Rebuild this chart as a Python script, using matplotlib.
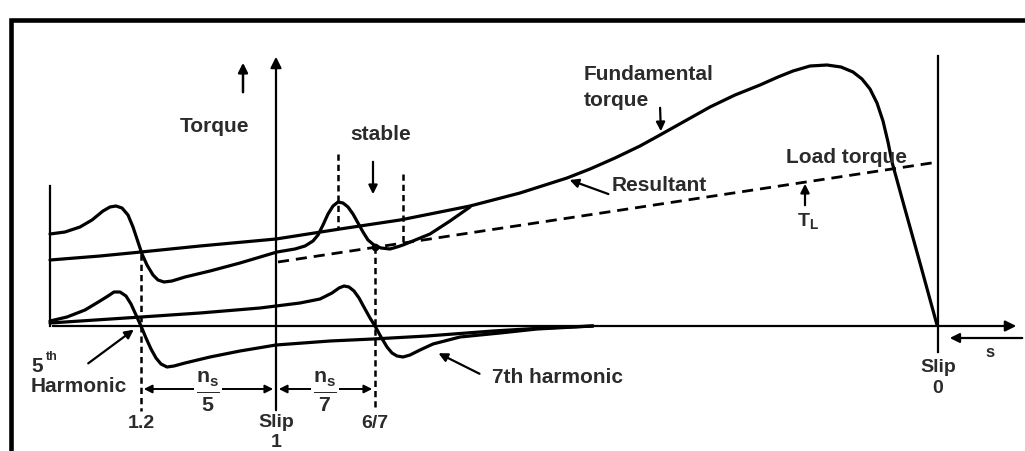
import matplotlib
matplotlib.use("Agg")
import matplotlib.pyplot as plt

# diagram drawn in picture units: x to the right, y downward
fund_x = [50, 100, 141, 200, 276, 340, 400, 470, 520, 567, 590, 615, 640, 660, 685, 710, 735, 760,
          778, 793, 810, 827, 841, 853, 862, 870, 877, 883, 888, 892, 903, 920, 937]
fund_y = [261, 257, 253, 247, 240, 230, 221, 207, 194, 179, 170, 159, 147, 136, 122, 108, 96, 86,
          78, 72, 67, 66, 68, 73, 80, 90, 104, 122, 143, 163, 203, 264, 326]

res_x = [50, 65, 80, 92, 103, 110, 116, 122, 128, 133, 138, 142, 147, 153, 158, 164, 172, 185, 210,
         240, 277, 295, 305, 313, 318, 323, 328, 333, 338, 343, 348, 353, 358, 363, 368, 374, 381,
         390, 397, 403, 430, 450, 470]
res_y = [235, 233, 228, 221, 212, 208, 207, 209, 216, 228, 243, 255, 266, 276, 281, 283, 282, 278, 272,
         264, 253, 250, 247, 242, 236, 226, 215, 207, 203, 204, 208, 215, 224, 233, 241, 246, 249,
         250, 248, 246, 235, 222, 208]

h5_x = [50, 67, 85, 100, 108, 114, 120, 126, 131, 136, 141, 146, 151, 156, 161, 167, 174, 185, 210,
        240, 276, 330, 373, 427, 493, 543, 593]
h5_y = [322, 318, 311, 302, 297, 293, 293, 297, 305, 316, 327, 339, 350, 359, 365, 368, 367, 364, 358,
        352, 346, 342, 340, 337, 332, 329, 327]

h7_x = [50, 141, 200, 260, 300, 320, 332, 339, 344, 349, 354, 359, 365, 370, 375, 381, 387, 392, 397,
        403, 410, 420, 433, 460, 500, 537, 593]
h7_y = [324, 318, 314, 309, 304, 300, 294, 289, 287, 288, 292, 299, 310, 319, 327, 338, 348, 354, 357,
        358, 356, 351, 345, 338, 334, 330, 327]

load_x = [278, 938]
load_y = [263, 163]

slip_ticks = {"1.2": 141, "6/7": 375}

fig = plt.figure(figsize=(10.25, 4.52), dpi=100)
ax = fig.add_axes([0, 0, 1, 1])
ax.set_xlim(0, 1025)
ax.set_ylim(452, 0)
ax.axis("off")

k = "black"
tc = "#2b2b2b"
fnt = dict(family="Liberation Sans", weight="bold", color=tc)
plt.rcParams["mathtext.fontset"] = "custom"
plt.rcParams["mathtext.rm"] = "Liberation Sans:bold"
plt.rcParams["mathtext.it"] = "Liberation Sans:bold"

# frame
ax.plot([10.5, 10.5, 1030], [460, 20.5, 20.5], color=k, lw=3.3, solid_joinstyle="miter")

# axes of the diagram
ax.annotate("", xy=(1019, 327), xytext=(50, 327),
            arrowprops=dict(arrowstyle="-|>", color=k, lw=1.6, mutation_scale=16))
ax.annotate("", xy=(276, 55), xytext=(276, 414),
            arrowprops=dict(arrowstyle="-|>", color=k, lw=1.6, mutation_scale=16))
ax.plot([50, 50], [187, 327], color=k, lw=1.6)
ax.plot([938, 938], [57, 353], color=k, lw=1.6)
ax.annotate("", xy=(947, 339), xytext=(1025, 339),
            arrowprops=dict(arrowstyle="-|>", color=k, lw=1.6, mutation_scale=14))
ax.annotate("", xy=(243, 61), xytext=(243, 96),
            arrowprops=dict(arrowstyle="-|>", color=k, lw=1.8, mutation_scale=14))

# curves
cs = dict(color=k, lw=2.3, solid_joinstyle="round", solid_capstyle="round")
ax.plot(fund_x, fund_y, **cs)
ax.plot(res_x, res_y, **cs)
ax.plot(h5_x, h5_y, **cs)
ax.plot(h7_x, h7_y, **cs)
ax.plot(load_x, load_y, color=k, lw=2.0, dashes=(4, 2.5))

# dashed guides
ds = dict(color=k, lw=1.8, dashes=(2.5, 1.6))
ax.plot([141, 141], [255, 412], **ds)
ax.plot([375, 375], [248, 412], **ds)
ax.plot([338, 338], [155, 230], **ds)
ax.plot([403, 403], [175, 245], **ds)
ax.plot([375], [248], "o", color=k, ms=4.5)

# leaders
ap = dict(arrowstyle="-|>", color=k, lw=1.6, mutation_scale=13)
ax.annotate("", xy=(373, 198), xytext=(373, 160), arrowprops=ap)
ax.annotate("", xy=(661, 135), xytext=(660, 106), arrowprops=ap)
ax.annotate("", xy=(567, 180), xytext=(611, 196), arrowprops=ap)
ax.annotate("", xy=(136, 329), xytext=(86, 366), arrowprops=ap)
ax.annotate("", xy=(436, 353), xytext=(482, 376), arrowprops=ap)
ax.annotate("", xy=(805, 182), xytext=(805, 209), arrowprops=ap)

# dimension arrows
dp = dict(arrowstyle="<|-|>", color=k, lw=1.4, mutation_scale=12, shrinkA=2, shrinkB=2)
ax.annotate("", xy=(141, 390), xytext=(276, 390), arrowprops=dp)
ax.annotate("", xy=(276, 390), xytext=(375, 390), arrowprops=dp)
wb = dict(facecolor="white", edgecolor="none", pad=1)
ax.text(208, 392, r"$\frac{n_s}{5}$", fontsize=22, ha="center", va="center", color=tc, bbox=wb)
ax.text(325, 392, r"$\frac{n_s}{7}$", fontsize=22, ha="center", va="center", color=tc, bbox=wb)

# labels
ax.text(215, 126, "Torque", fontsize=15, ha="center", va="center", **fnt)
ax.text(381, 135, "stable", fontsize=15, ha="center", va="center", **fnt)
ax.text(584, 75, "Fundamental", fontsize=15, ha="left", va="center", **fnt)
ax.text(584, 100, "torque", fontsize=15, ha="left", va="center", **fnt)
ax.text(612, 186, "Resultant", fontsize=15, ha="left", va="center", **fnt)
ax.text(786, 158, "Load torque", fontsize=15, ha="left", va="center", **fnt)
ax.text(808, 221, r"T$_\mathregular{L}$", fontsize=14, ha="center", va="center", **fnt)
ax.text(31, 367, "5", fontsize=15, ha="left", va="center", **fnt)
ax.text(46, 357, "th", fontsize=9, ha="left", va="center", **fnt)
ax.text(31, 387, "Harmonic", fontsize=15, ha="left", va="center", **fnt)
ax.text(492, 378, "7th harmonic", fontsize=15, ha="left", va="center", **fnt)
for lab, xp in slip_ticks.items():
    ax.text(xp, 424, lab, fontsize=14, ha="center", va="center", **fnt)
ax.text(276, 423, "Slip", fontsize=14, ha="center", va="center", **fnt)
ax.text(276, 443, "1", fontsize=14, ha="center", va="center", **fnt)
ax.text(938, 368, "Slip", fontsize=14, ha="center", va="center", **fnt)
ax.text(938, 389, "0", fontsize=14, ha="center", va="center", **fnt)
ax.text(990, 353, "s", fontsize=12, ha="center", va="center", **fnt)

fig.savefig("out.png", dpi=100)
